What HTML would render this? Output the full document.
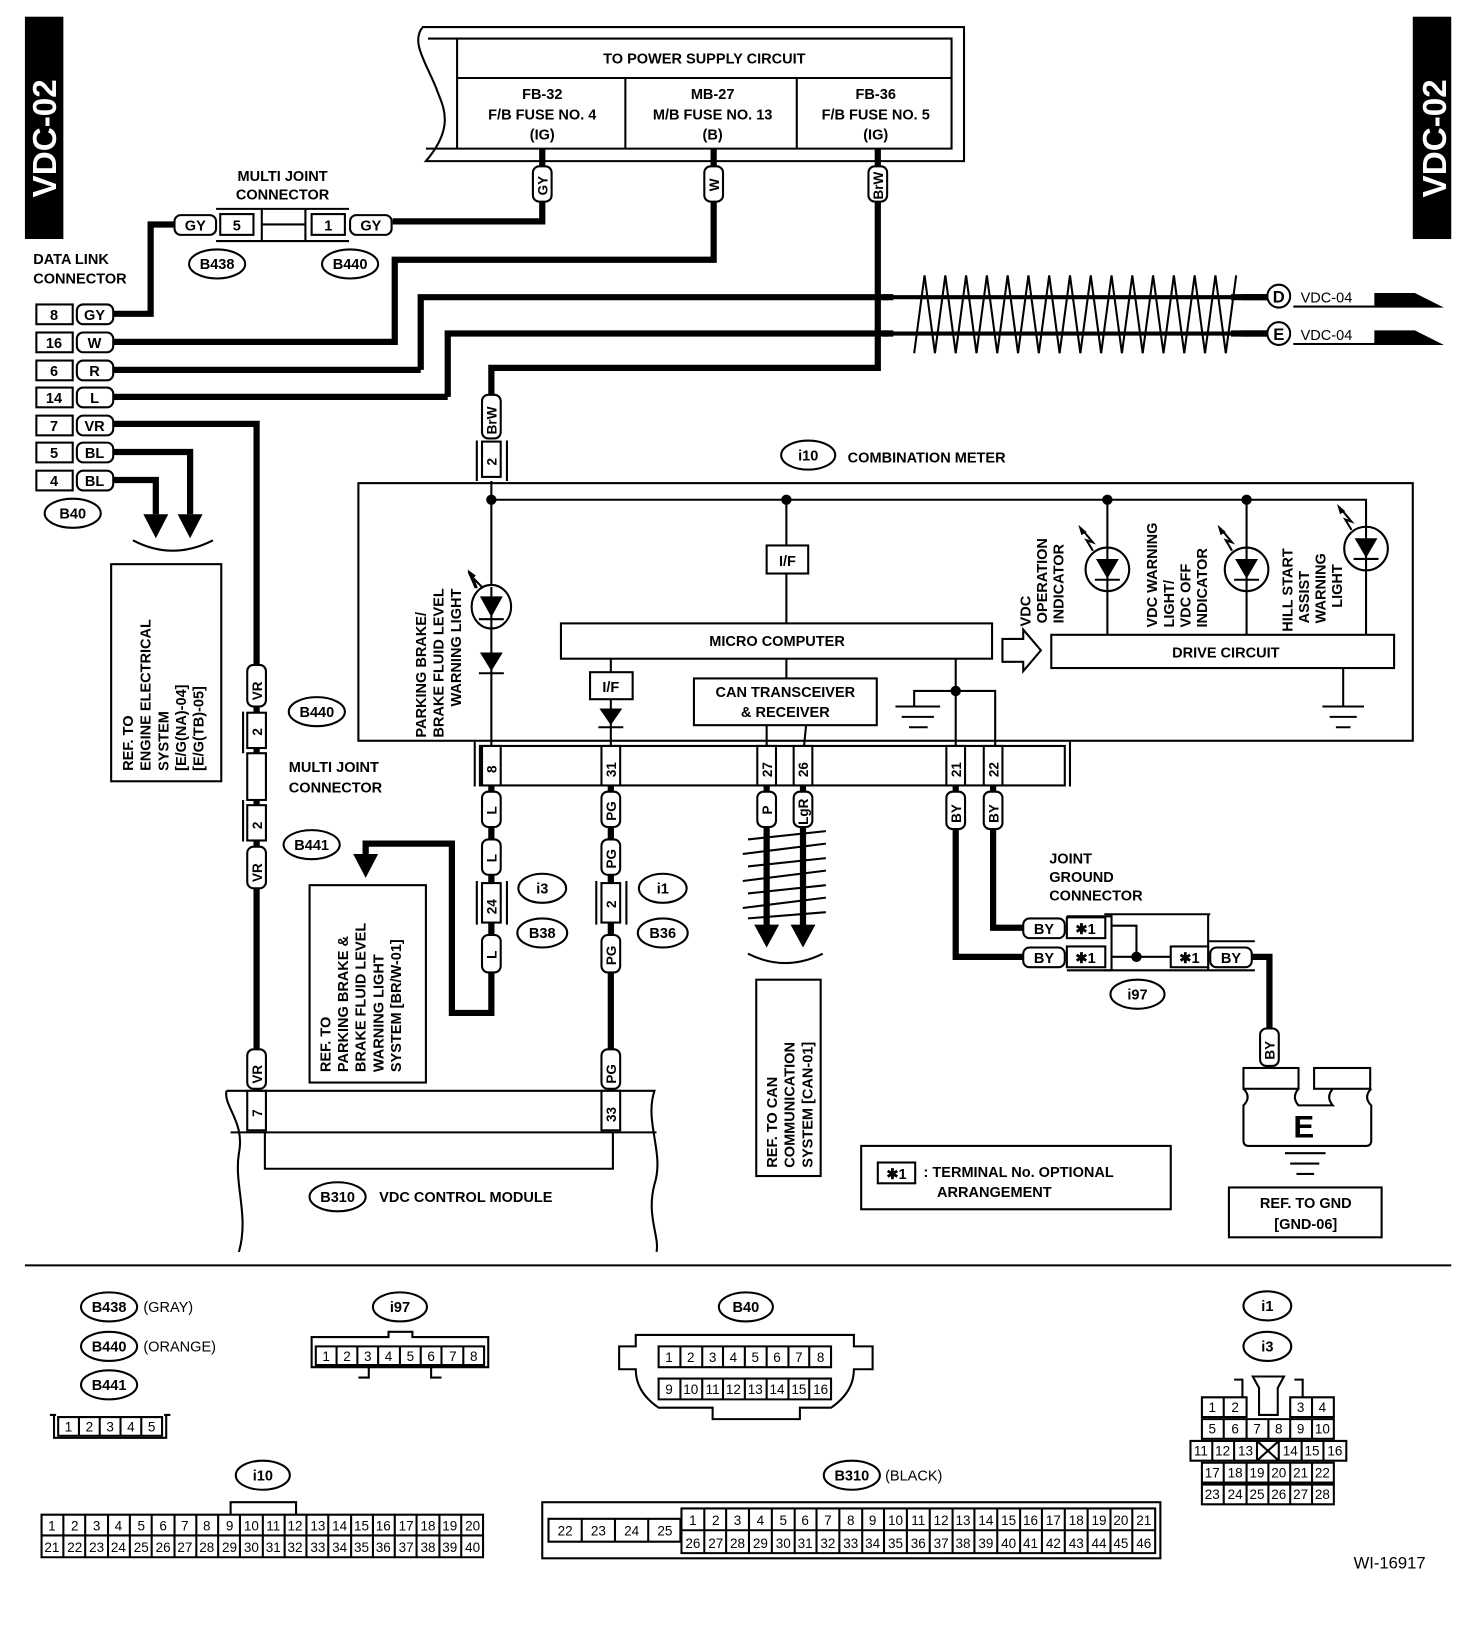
<!DOCTYPE html>
<html><head><meta charset="utf-8"><style>
html,body{margin:0;padding:0;background:#fff}
svg{display:block}
text{font-family:"Liberation Sans",Arial,sans-serif;font-weight:bold;font-size:14px;fill:#000}
.w{stroke:#000;stroke-width:6;fill:none}
.t{stroke:#000;stroke-width:2;fill:none}
.f{stroke:#000;stroke-width:2;fill:#fff}
.s{font-size:13px;font-weight:normal}
.m{text-anchor:middle}
</style></head><body>
<svg width="1472" height="1628" viewBox="0 0 1417 1567" xmlns="http://www.w3.org/2000/svg">
<!-- side tags -->
<rect x="24" y="16" width="37" height="214" fill="#000"/>
<text transform="translate(54,190) rotate(-90)" style="font-size:32px;font-weight:bold;fill:#fff">VDC-02</text>
<rect x="1360" y="16" width="37" height="214" fill="#000"/>
<text transform="translate(1392,190) rotate(-90)" style="font-size:32px;font-weight:bold;fill:#fff">VDC-02</text>

<!-- power supply -->
<path class="t" d="M407,26 H928 V155 H410 C440,120 425,100 420,85 C410,60 395,40 407,26 Z"/>
<path class="t" d="M440,37 H916 V143 H440 Z M440,75 H916 M602,75 V143 M767,75 V143 M412,37 H440 M410,143 H440"/>
<text x="678" y="61" class="m">TO POWER SUPPLY CIRCUIT</text>
<text x="522" y="95" class="m">FB-32</text><text x="522" y="115" class="m">F/B FUSE NO. 4</text><text x="522" y="134" class="m">(IG)</text>
<text x="686" y="95" class="m">MB-27</text><text x="686" y="115" class="m">M/B FUSE NO. 13</text><text x="686" y="134" class="m">(B)</text>
<text x="843" y="95" class="m">FB-36</text><text x="843" y="115" class="m">F/B FUSE NO. 5</text><text x="843" y="134" class="m">(IG)</text>

<!-- wires -->
<path class="w" d="M522,143 V213 H378"/>
<path class="w" d="M687,143 V250 H380 V329 H108"/>
<path class="w" d="M405,356 V286 H1220"/>
<path class="w" d="M431,382 V321 H1220"/>
<path class="w" d="M108,356 H405 M108,382 H431"/>
<path class="w" d="M845,143 V354 H473 V380"/>
<path class="w" d="M108,302 H145 V216 H168"/>
<path class="w" d="M108,408 H247 V1050"/>
<path class="w" d="M108,435 H183 V495 M108,462 H150 V495"/>
<polygon points="138,495 162,495 150,518"/><polygon points="171,495 195,495 183,518"/>
<path class="t" d="M128,520 Q166,540 205,520"/>

<!-- vertical pills on power wires -->
<rect x="513" y="160" width="18" height="34" rx="6" class="f"/><text transform="translate(527,188) rotate(-90)" class="s" style="font-weight:bold">GY</text>
<rect x="678" y="160" width="18" height="34" rx="6" class="f"/><text transform="translate(692,184) rotate(-90)" style="font-size:13px">W</text>
<rect x="836" y="160" width="18" height="34" rx="6" class="f"/><text transform="translate(850,192) rotate(-90)" style="font-size:13px">BrW</text>

<!-- hatch -->
<rect x="855" y="262" width="340" height="82" fill="#fff"/>
<path class="w" d="M850,286 H860 M850,321 H860 M1185,286 H1220 M1185,321 H1220"/>
<path class="t" d="M880,340 L890,265 L900,340 L910,265 L920,340 L930,265 L940,340 L950,265 L960,340 L970,265 L980,340 L990,265 L1000,340 L1010,265 L1020,340 L1030,265 L1040,340 L1050,265 L1060,340 L1070,265 L1080,340 L1090,265 L1100,340 L1110,265 L1120,340 L1130,265 L1140,340 L1150,265 L1160,340 L1170,265 L1180,340 L1190,265"/>
<path d="M855,286 H1190 M855,321 H1190" stroke="#000" stroke-width="4"/>
<circle cx="1231" cy="285" r="11" class="f"/><text x="1231" y="291" class="m" style="font-size:16px">D</text>
<circle cx="1231" cy="321" r="11" class="f"/><text x="1231" y="327" class="m" style="font-size:16px">E</text>
<polygon points="1322,282 1362,282 1390,296 1245,296 1245,294 1322,294" fill="#000"/>
<polygon points="1322,318 1362,318 1390,332 1245,332 1245,330 1322,330" fill="#000"/>
<rect x="1243" y="276" width="80" height="18" fill="#fff"/><text x="1252" y="291" style="font-weight:normal">VDC-04</text>
<rect x="1243" y="312" width="80" height="18" fill="#fff"/><text x="1252" y="327" style="font-weight:normal">VDC-04</text>

<!-- multi joint connector top -->
<text x="272" y="174" class="m">MULTI JOINT</text><text x="272" y="192" class="m">CONNECTOR</text>
<path class="t" d="M208,201 H336 M208,232 H336 M252,201 V232 M294,201 V232 M252,216 H294"/>
<rect x="168" y="207" width="40" height="19" rx="6" class="f"/><text x="188" y="222" class="m">GY</text>
<rect x="212" y="206" width="32" height="20" class="f"/><text x="228" y="222" class="m">5</text>
<rect x="300" y="206" width="32" height="20" class="f"/><text x="316" y="222" class="m">1</text>
<rect x="337" y="207" width="40" height="19" rx="6" class="f"/><text x="357" y="222" class="m">GY</text>
<ellipse cx="209" cy="254" rx="27" ry="14" class="f"/><text x="209" y="259" class="m">B438</text>
<ellipse cx="337" cy="254" rx="27" ry="14" class="f"/><text x="337" y="259" class="m">B440</text>

<!-- data link connector -->
<text x="32" y="254">DATA LINK</text><text x="32" y="273">CONNECTOR</text>
<g>
<rect x="35" y="293" width="35" height="19" class="f"/><text x="52" y="308" class="m">8</text>
<rect x="35" y="320" width="35" height="19" class="f"/><text x="52" y="335" class="m">16</text>
<rect x="35" y="347" width="35" height="19" class="f"/><text x="52" y="362" class="m">6</text>
<rect x="35" y="373" width="35" height="19" class="f"/><text x="52" y="388" class="m">14</text>
<rect x="35" y="400" width="35" height="19" class="f"/><text x="52" y="415" class="m">7</text>
<rect x="35" y="426" width="35" height="19" class="f"/><text x="52" y="441" class="m">5</text>
<rect x="35" y="453" width="35" height="19" class="f"/><text x="52" y="468" class="m">4</text>
<rect x="74" y="293" width="35" height="19" rx="6" class="f"/><text x="91" y="308" class="m">GY</text>
<rect x="74" y="320" width="35" height="19" rx="6" class="f"/><text x="91" y="335" class="m">W</text>
<rect x="74" y="347" width="35" height="19" rx="6" class="f"/><text x="91" y="362" class="m">R</text>
<rect x="74" y="373" width="35" height="19" rx="6" class="f"/><text x="91" y="388" class="m">L</text>
<rect x="74" y="400" width="35" height="19" rx="6" class="f"/><text x="91" y="415" class="m">VR</text>
<rect x="74" y="426" width="35" height="19" rx="6" class="f"/><text x="91" y="441" class="m">BL</text>
<rect x="74" y="453" width="35" height="19" rx="6" class="f"/><text x="91" y="468" class="m">BL</text>
</g>
<ellipse cx="70" cy="494" rx="27" ry="14" class="f"/><text x="70" y="499" class="m">B40</text>

<!-- ref engine box -->
<rect x="107" y="543" width="106" height="209" class="t"/>
<text transform="translate(128,742) rotate(-90)">REF. TO</text>
<text transform="translate(145,742) rotate(-90)">ENGINE ELECTRICAL</text>
<text transform="translate(162,742) rotate(-90)">SYSTEM</text>
<text transform="translate(179,742) rotate(-90)">[E/G(NA)-04]</text>
<text transform="translate(196,742) rotate(-90)">[E/G(TB)-05]</text>

<!-- VR multi joint -->
<rect x="238" y="640" width="18" height="40" rx="6" class="f"/><text transform="translate(252,674) rotate(-90)" style="font-size:13px">VR</text>
<path class="t" d="M234,685 V725 M234,770 V810"/>
<rect x="238" y="686" width="18" height="34" class="f"/><text transform="translate(252,708) rotate(-90)" style="font-size:13px">2</text>
<rect x="238" y="725" width="18" height="45" class="f"/>
<rect x="238" y="775" width="18" height="34" class="f"/><text transform="translate(252,798) rotate(-90)" style="font-size:13px">2</text>
<rect x="238" y="815" width="18" height="40" rx="6" class="f"/><text transform="translate(252,849) rotate(-90)" style="font-size:13px">VR</text>
<rect x="238" y="1010" width="18" height="38" rx="6" class="f"/><text transform="translate(252,1043) rotate(-90)" style="font-size:13px">VR</text>
<ellipse cx="305" cy="685" rx="27" ry="14" class="f"/><text x="305" y="690" class="m">B440</text>
<ellipse cx="300" cy="813" rx="27" ry="14" class="f"/><text x="300" y="818" class="m">B441</text>
<text x="278" y="743">MULTI JOINT</text><text x="278" y="763">CONNECTOR</text>

<!-- BrW into meter -->
<rect x="464" y="380" width="18" height="42" rx="6" class="f"/><text transform="translate(478,418) rotate(-90)" style="font-size:13px">BrW</text>
<path class="t" d="M459,424 V463 M488,424 V463"/>
<rect x="464" y="425" width="18" height="34" class="f"/><text transform="translate(478,448) rotate(-90)" style="font-size:13px">2</text>

<!-- combination meter -->
<ellipse cx="778" cy="438" rx="26" ry="14" class="f"/><text x="778" y="443" class="m">i10</text>
<text x="816" y="445">COMBINATION METER</text>
<rect x="345" y="465" width="1015" height="248" class="t" stroke-width="2.5"/>
<path class="t" d="M473,463 V718 M473,481 H1315 V611 M757,481 V600 M1066,481 V611 M1200,481 V611"/>
<circle cx="473" cy="481" r="5"/><circle cx="757" cy="481" r="5"/><circle cx="1066" cy="481" r="5"/><circle cx="1200" cy="481" r="5"/>
<!-- parking LED -->
<ellipse cx="473" cy="584" rx="19" ry="21" class="f"/>
<polygon points="462,574 484,574 473,594"/><path class="t" d="M461,596 H485 M473,565 V605"/>
<path class="t" d="M465,566 L455,556 M455,556 L459,566 M458,566 L451,550"/><polygon points="450,548 458,554 454,558"/>
<polygon points="462,628 484,628 473,646"/><path class="t" d="M461,648 H485"/>
<text transform="translate(410,710) rotate(-90)">PARKING BRAKE/</text>
<text transform="translate(427,710) rotate(-90)">BRAKE FLUID LEVEL</text>
<text transform="translate(444,680) rotate(-90)">WARNING LIGHT</text>
<!-- I/F -->
<rect x="738" y="525" width="40" height="27" class="f"/><text x="758" y="545" class="m">I/F</text>
<rect x="540" y="600" width="415" height="34" class="f"/><text x="748" y="622" class="m">MICRO COMPUTER</text>
<path class="t" d="M588,634 V718"/>
<rect x="568" y="647" width="41" height="26" class="f"/><text x="588" y="666" class="m">I/F</text>
<polygon points="577,682 599,682 588,698"/><path class="t" d="M576,700 H600"/>
<path class="t" d="M757,634 V653 M738,698 V718 M776,698 L774,718"/>
<rect x="668" y="653" width="176" height="45" class="f"/><text x="756" y="671" class="m">CAN TRANSCEIVER</text><text x="756" y="690" class="m">&amp; RECEIVER</text>
<path class="t" d="M920,634 V718 M920,665 H958 V718 M920,665 H880 V680 M862,680 H905 M868,690 H899 M875,700 H893"/>
<circle cx="920" cy="665" r="5"/>
<polygon points="965,615 985,615 985,606 1002,626 985,646 985,637 965,637" class="f"/>
<text transform="translate(992,603) rotate(-90)">VDC</text>
<text transform="translate(1008,600) rotate(-90)">OPERATION</text>
<text transform="translate(1024,600) rotate(-90)">INDICATOR</text>
<rect x="1012" y="611" width="330" height="32" class="f"/><text x="1180" y="633" class="m">DRIVE CIRCUIT</text>
<path class="t" d="M1293,643 V680 M1273,680 H1313 M1280,690 H1306 M1286,700 H1300"/>
<!-- LEDs -->
<g>
<circle cx="1066" cy="548" r="21" class="f"/><path class="t" d="M1066,527 V569 M1054,558 H1078"/><polygon points="1055,538 1077,538 1066,557"/>
<path class="t" d="M1052,530 L1046,520 L1052,522 L1042,510"/><polygon points="1038,505 1046,512 1041,515"/>
<circle cx="1200" cy="548" r="21" class="f"/><path class="t" d="M1200,527 V569 M1188,558 H1212"/><polygon points="1189,538 1211,538 1200,557"/>
<path class="t" d="M1186,530 L1180,520 L1186,522 L1176,510"/><polygon points="1172,505 1180,512 1175,515"/>
<circle cx="1315" cy="528" r="21" class="f"/><path class="t" d="M1315,507 V549 M1303,538 H1327"/><polygon points="1304,518 1326,518 1315,537"/>
<path class="t" d="M1301,510 L1295,500 L1301,502 L1291,490"/><polygon points="1287,485 1295,492 1290,495"/>
</g>
<text transform="translate(1114,604) rotate(-90)">VDC WARNING</text>
<text transform="translate(1130,604) rotate(-90)">LIGHT/</text>
<text transform="translate(1146,604) rotate(-90)">VDC OFF</text>
<text transform="translate(1162,604) rotate(-90)">INDICATOR</text>
<text transform="translate(1244,608) rotate(-90)">HILL START</text>
<text transform="translate(1260,600) rotate(-90)">ASSIST</text>
<text transform="translate(1276,600) rotate(-90)">WARNING</text>
<text transform="translate(1292,585) rotate(-90)">LIGHT</text>

<!-- meter connector strip -->
<path class="t" d="M457,714 V757 M1030,714 V757"/>
<rect x="462" y="718" width="563" height="38" class="f"/>
<g>
<rect x="464" y="718" width="18" height="38" class="f"/><text transform="translate(478,744) rotate(-90)" style="font-size:13px">8</text>
<rect x="579" y="718" width="18" height="38" class="f"/><text transform="translate(593,748) rotate(-90)" style="font-size:13px">31</text>
<rect x="729" y="718" width="18" height="38" class="f"/><text transform="translate(743,748) rotate(-90)" style="font-size:13px">27</text>
<rect x="764" y="718" width="18" height="38" class="f"/><text transform="translate(778,748) rotate(-90)" style="font-size:13px">26</text>
<rect x="911" y="718" width="18" height="38" class="f"/><text transform="translate(925,748) rotate(-90)" style="font-size:13px">21</text>
<rect x="947" y="718" width="18" height="38" class="f"/><text transform="translate(961,748) rotate(-90)" style="font-size:13px">22</text>
</g>

<!-- L wire -->
<path class="w" d="M473,756 V975 H435 V812 H352 V825"/>
<polygon points="340,822 364,822 352,845"/>
<rect x="464" y="762" width="18" height="34" rx="6" class="f"/><text transform="translate(478,784) rotate(-90)" style="font-size:13px">L</text>
<rect x="464" y="808" width="18" height="34" rx="6" class="f"/><text transform="translate(478,830) rotate(-90)" style="font-size:13px">L</text>
<path class="t" d="M459,848 V890 M488,848 V890"/>
<rect x="464" y="850" width="18" height="38" class="f"/><text transform="translate(478,880) rotate(-90)" style="font-size:13px">24</text>
<rect x="464" y="900" width="18" height="36" rx="6" class="f"/><text transform="translate(478,923) rotate(-90)" style="font-size:13px">L</text>
<ellipse cx="522" cy="855" rx="23" ry="14" class="f"/><text x="522" y="860" class="m">i3</text>
<ellipse cx="522" cy="898" rx="24" ry="14" class="f"/><text x="522" y="903" class="m">B38</text>
<rect x="298" y="852" width="112" height="190" class="f"/>
<text transform="translate(318,1032) rotate(-90)">REF. TO</text>
<text transform="translate(335,1032) rotate(-90)">PARKING BRAKE &amp;</text>
<text transform="translate(352,1032) rotate(-90)">BRAKE FLUID LEVEL</text>
<text transform="translate(369,1032) rotate(-90)">WARNING LIGHT</text>
<text transform="translate(386,1032) rotate(-90)">SYSTEM [BR/W-01]</text>

<!-- PG wire -->
<path class="w" d="M588,756 V1050"/>
<rect x="579" y="762" width="18" height="34" rx="6" class="f"/><text transform="translate(593,790) rotate(-90)" style="font-size:13px">PG</text>
<rect x="579" y="808" width="18" height="34" rx="6" class="f"/><text transform="translate(593,836) rotate(-90)" style="font-size:13px">PG</text>
<path class="t" d="M574,848 V890 M603,848 V890"/>
<rect x="579" y="850" width="18" height="38" class="f"/><text transform="translate(593,874) rotate(-90)" style="font-size:13px">2</text>
<rect x="579" y="900" width="18" height="36" rx="6" class="f"/><text transform="translate(593,929) rotate(-90)" style="font-size:13px">PG</text>
<rect x="579" y="1010" width="18" height="38" rx="6" class="f"/><text transform="translate(593,1043) rotate(-90)" style="font-size:13px">PG</text>
<ellipse cx="638" cy="855" rx="23" ry="14" class="f"/><text x="638" y="860" class="m">i1</text>
<ellipse cx="638" cy="898" rx="24" ry="14" class="f"/><text x="638" y="903" class="m">B36</text>

<!-- CAN wires -->
<path class="w" d="M738,756 V893 M773,756 V893"/>
<polygon points="726,890 750,890 738,912"/><polygon points="761,890 785,890 773,912"/>
<rect x="729" y="762" width="18" height="34" rx="6" class="f"/><text transform="translate(743,784) rotate(-90)" style="font-size:13px">P</text>
<rect x="764" y="762" width="18" height="34" rx="6" class="f"/><text transform="translate(778,794) rotate(-90)" style="font-size:13px">LgR</text>
<path class="t" d="M720,808 L795,800 M715,822 L795,812 M720,834 L795,826 M715,848 L795,838 M720,860 L795,852 M715,874 L795,864 M720,884 L795,878"/>
<path class="t" d="M720,918 Q756,936 792,918"/>
<rect x="728" y="943" width="62" height="189" class="f"/>
<text transform="translate(748,1124) rotate(-90)">REF. TO CAN</text>
<text transform="translate(765,1124) rotate(-90)">COMMUNICATION</text>
<text transform="translate(782,1124) rotate(-90)">SYSTEM [CAN-01]</text>

<!-- BY wires -->
<path class="w" d="M920,756 V921 H985 M956,756 V893 H985"/>
<path class="w" d="M1205,921 H1222 V990"/>
<rect x="911" y="762" width="18" height="36" rx="6" class="f"/><text transform="translate(925,792) rotate(-90)" style="font-size:13px">BY</text>
<rect x="947" y="762" width="18" height="36" rx="6" class="f"/><text transform="translate(961,792) rotate(-90)" style="font-size:13px">BY</text>
<text x="1010" y="831">JOINT</text><text x="1010" y="849">GROUND</text><text x="1010" y="867">CONNECTOR</text>
<path class="t" d="M1063,880 H1165 M1063,934 H1165 M1070,880 V934 M1163,880 V934 M1070,891 H1094 V921 M1070,921 H1127 M1163,906 H1208 M1163,934 H1208"/>
<rect x="985" y="884" width="40" height="19" rx="6" class="f"/><text x="1005" y="899" class="m">BY</text>
<rect x="985" y="912" width="40" height="19" rx="6" class="f"/><text x="1005" y="927" class="m">BY</text>
<rect x="1027" y="883" width="37" height="20" class="f"/><text x="1045" y="899" class="m">✱1</text>
<rect x="1027" y="911" width="37" height="20" class="f"/><text x="1045" y="927" class="m">✱1</text>
<path class="t" d="M1027,882 H1070 M1027,934 H1070"/>
<circle cx="1094" cy="921" r="5"/>
<rect x="1127" y="911" width="36" height="20" class="f"/><text x="1145" y="927" class="m">✱1</text>
<rect x="1165" y="912" width="40" height="19" rx="6" class="f"/><text x="1185" y="927" class="m">BY</text>
<ellipse cx="1095" cy="957" rx="26" ry="14" class="f"/><text x="1095" y="962" class="m">i97</text>
<rect x="1213" y="990" width="18" height="36" rx="6" class="f"/><text transform="translate(1227,1020) rotate(-90)" style="font-size:13px">BY</text>
<!-- E ground -->
<rect x="1197" y="1028" width="53" height="20" class="f"/>
<rect x="1265" y="1028" width="54" height="20" class="f"/>
<path class="t" d="M1197,1048 Q1205,1056 1197,1064 V1098 Q1197,1103 1202,1103 H1315 Q1320,1103 1320,1098 V1064 Q1312,1056 1320,1048 M1250,1048 Q1243,1056 1250,1064 H1283 Q1276,1056 1283,1048"/>
<text x="1255" y="1095" class="m" style="font-size:30px">E</text>
<path class="t" d="M1237,1110 H1276 M1242,1120 H1270 M1248,1130 H1265" stroke-width="2.5"/>
<rect x="1183" y="1143" width="147" height="48" class="f"/>
<text x="1257" y="1163" class="m">REF. TO GND</text><text x="1257" y="1183" class="m">[GND-06]</text>
<!-- legend -->
<rect x="829" y="1103" width="298" height="61" class="f"/>
<rect x="845" y="1119" width="36" height="20" class="f"/><text x="863" y="1135" class="m">✱1</text>
<text x="889" y="1133">: TERMINAL No. OPTIONAL</text>
<text x="902" y="1152">ARRANGEMENT</text>

<!-- VDC control module -->
<path class="t" d="M218,1050 H630 C620,1080 640,1110 630,1140 C622,1170 635,1190 632,1205 M230,1205 C240,1170 225,1140 230,1110 C236,1080 215,1065 218,1050"/>
<path class="t" d="M222,1090 H632 M255,1090 V1125 H590 V1090"/>
<rect x="238" y="1050" width="18" height="38" class="f"/><text transform="translate(252,1075) rotate(-90)" style="font-size:13px">7</text>
<rect x="579" y="1050" width="18" height="38" class="f"/><text transform="translate(593,1080) rotate(-90)" style="font-size:13px">33</text>
<ellipse cx="325" cy="1152" rx="27" ry="14" class="f"/><text x="325" y="1157" class="m">B310</text>
<text x="365" y="1157">VDC CONTROL MODULE</text>

<path d="M24,1218 H1397" stroke="#000" stroke-width="2"/>

<!-- bottom: B438 etc -->
<ellipse cx="105" cy="1258" rx="27" ry="14" class="f"/><text x="105" y="1263" class="m">B438</text><text x="138" y="1263" style="font-weight:normal">(GRAY)</text>
<ellipse cx="105" cy="1296" rx="27" ry="14" class="f"/><text x="105" y="1301" class="m">B440</text><text x="138" y="1301" style="font-weight:normal">(ORANGE)</text>
<ellipse cx="105" cy="1333" rx="27" ry="14" class="f"/><text x="105" y="1338" class="m">B441</text>
<g class="s">
<path class="t" d="M52,1362 V1384 H160 V1362 M48,1362 H54 M158,1362 H164"/>
<path class="t" d="M56,1364 H156 V1382 H56 Z M76,1364 V1382 M96,1364 V1382 M116,1364 V1382 M136,1364 V1382"/>
<text x="66" y="1378" class="m s">1</text><text x="86" y="1378" class="m s">2</text><text x="106" y="1378" class="m s">3</text><text x="126" y="1378" class="m s">4</text><text x="146" y="1378" class="m s">5</text>
</g>
<!-- i97 connector -->
<ellipse cx="385" cy="1258" rx="26" ry="14" class="f"/><text x="385" y="1263" class="m">i97</text>
<path class="t" d="M300,1287 H374 V1282 H397 V1287 H470 V1316 H300 Z M304,1296 H466 V1314 H304 Z"/>
<path class="t" d="M324,1296 V1314 M344,1296 V1314 M364,1296 V1314 M385,1296 V1314 M405,1296 V1314 M425,1296 V1314 M446,1296 V1314 M355,1316 V1326 H345 M415,1316 V1326 H425"/>
<text x="314" y="1310" class="m s">1</text><text x="334" y="1310" class="m s">2</text><text x="354" y="1310" class="m s">3</text><text x="374" y="1310" class="m s">4</text><text x="395" y="1310" class="m s">5</text><text x="415" y="1310" class="m s">6</text><text x="436" y="1310" class="m s">7</text><text x="456" y="1310" class="m s">8</text>
<!-- B40 -->
<ellipse cx="718" cy="1258" rx="26" ry="14" class="f"/><text x="718" y="1263" class="m">B40</text>
<path class="t" d="M612,1285 H822 V1296 H840 V1318 H822 Q822,1340 800,1355 H770 V1366 H686 V1355 H634 Q612,1340 612,1318 H596 V1296 H612 Z"/>
<path class="t" d="M634,1296 H800 V1316 H634 Z M634,1327 H800 V1347 H634 Z"/>
<path class="t" d="M655,1296 V1316 M676,1296 V1316 M696,1296 V1316 M717,1296 V1316 M738,1296 V1316 M759,1296 V1316 M779,1296 V1316 M655,1327 V1347 M676,1327 V1347 M696,1327 V1347 M717,1327 V1347 M738,1327 V1347 M759,1327 V1347 M779,1327 V1347"/>
<text x="644" y="1311" class="m s">1</text><text x="665" y="1311" class="m s">2</text><text x="686" y="1311" class="m s">3</text><text x="706" y="1311" class="m s">4</text><text x="727" y="1311" class="m s">5</text><text x="748" y="1311" class="m s">6</text><text x="769" y="1311" class="m s">7</text><text x="790" y="1311" class="m s">8</text>
<text x="644" y="1342" class="m s">9</text><text x="665" y="1342" class="m s">10</text><text x="686" y="1342" class="m s">11</text><text x="706" y="1342" class="m s">12</text><text x="727" y="1342" class="m s">13</text><text x="748" y="1342" class="m s">14</text><text x="769" y="1342" class="m s">15</text><text x="790" y="1342" class="m s">16</text>
<!-- i1/i3 connector -->
<ellipse cx="1220" cy="1257" rx="23" ry="14" class="f"/><text x="1220" y="1262" class="m">i1</text>
<ellipse cx="1220" cy="1296" rx="23" ry="14" class="f"/><text x="1220" y="1301" class="m">i3</text>
<path class="t" d="M1188,1328 H1196 V1345 M1246,1328 H1254 V1345 M1206,1325 H1236 L1230,1336 V1362 H1212 V1336 Z"/>
<path class="t" d="M1157,1345 H1200 V1364 H1157 Z M1178,1345 V1364 M1242,1345 H1284 V1364 H1242 Z M1263,1345 V1364"/>
<text x="1167" y="1359" class="m s">1</text><text x="1189" y="1359" class="m s">2</text><text x="1252" y="1359" class="m s">3</text><text x="1273" y="1359" class="m s">4</text>
<path class="t" d="M1157,1366 H1284 V1385 H1157 Z M1178,1366 V1385 M1200,1366 V1385 M1221,1366 V1385 M1242,1366 V1385 M1263,1366 V1385"/>
<text x="1167" y="1380" class="m s">5</text><text x="1189" y="1380" class="m s">6</text><text x="1210" y="1380" class="m s">7</text><text x="1231" y="1380" class="m s">8</text><text x="1252" y="1380" class="m s">9</text><text x="1273" y="1380" class="m s">10</text>
<path class="t" d="M1146,1387 H1296 V1406 H1146 Z M1167,1387 V1406 M1188,1387 V1406 M1210,1387 V1406 M1231,1387 V1406 M1253,1387 V1406 M1274,1387 V1406 M1210,1387 L1231,1406 M1231,1387 L1210,1406"/>
<text x="1156" y="1401" class="m s">11</text><text x="1177" y="1401" class="m s">12</text><text x="1199" y="1401" class="m s">13</text><text x="1242" y="1401" class="m s">14</text><text x="1263" y="1401" class="m s">15</text><text x="1285" y="1401" class="m s">16</text>
<path class="t" d="M1157,1408 H1284 V1427 H1157 Z M1178,1408 V1427 M1200,1408 V1427 M1221,1408 V1427 M1242,1408 V1427 M1263,1408 V1427"/>
<text x="1167" y="1422" class="m s">17</text><text x="1189" y="1422" class="m s">18</text><text x="1210" y="1422" class="m s">19</text><text x="1231" y="1422" class="m s">20</text><text x="1252" y="1422" class="m s">21</text><text x="1273" y="1422" class="m s">22</text>
<path class="t" d="M1157,1429 H1284 V1448 H1157 Z M1178,1429 V1448 M1200,1429 V1448 M1221,1429 V1448 M1242,1429 V1448 M1263,1429 V1448"/>
<text x="1167" y="1443" class="m s">23</text><text x="1189" y="1443" class="m s">24</text><text x="1210" y="1443" class="m s">25</text><text x="1231" y="1443" class="m s">26</text><text x="1252" y="1443" class="m s">27</text><text x="1273" y="1443" class="m s">28</text>
<!-- i10 connector -->
<ellipse cx="253" cy="1420" rx="26" ry="14" class="f"/><text x="253" y="1425" class="m">i10</text>
<path class="t" d="M222,1458 V1446 H285 V1458 M40,1458 H465 V1499 H40 Z M40,1478 H465"/>
<path class="t" d="M61,1458 V1499 M82,1458 V1499 M104,1458 V1499 M125,1458 V1499 M146,1458 V1499 M168,1458 V1499 M189,1458 V1499 M210,1458 V1499 M231,1458 V1499 M253,1458 V1499 M274,1458 V1499 M295,1458 V1499 M316,1458 V1499 M338,1458 V1499 M359,1458 V1499 M380,1458 V1499 M401,1458 V1499 M423,1458 V1499 M444,1458 V1499"/>
<g>
<text x="50" y="1473" class="m s">1</text><text x="72" y="1473" class="m s">2</text><text x="93" y="1473" class="m s">3</text><text x="114" y="1473" class="m s">4</text><text x="136" y="1473" class="m s">5</text><text x="157" y="1473" class="m s">6</text><text x="178" y="1473" class="m s">7</text><text x="199" y="1473" class="m s">8</text><text x="221" y="1473" class="m s">9</text><text x="242" y="1473" class="m s">10</text><text x="263" y="1473" class="m s">11</text><text x="284" y="1473" class="m s">12</text><text x="306" y="1473" class="m s">13</text><text x="327" y="1473" class="m s">14</text><text x="348" y="1473" class="m s">15</text><text x="369" y="1473" class="m s">16</text><text x="391" y="1473" class="m s">17</text><text x="412" y="1473" class="m s">18</text><text x="433" y="1473" class="m s">19</text><text x="455" y="1473" class="m s">20</text>
<text x="50" y="1494" class="m s">21</text><text x="72" y="1494" class="m s">22</text><text x="93" y="1494" class="m s">23</text><text x="114" y="1494" class="m s">24</text><text x="136" y="1494" class="m s">25</text><text x="157" y="1494" class="m s">26</text><text x="178" y="1494" class="m s">27</text><text x="199" y="1494" class="m s">28</text><text x="221" y="1494" class="m s">29</text><text x="242" y="1494" class="m s">30</text><text x="263" y="1494" class="m s">31</text><text x="284" y="1494" class="m s">32</text><text x="306" y="1494" class="m s">33</text><text x="327" y="1494" class="m s">34</text><text x="348" y="1494" class="m s">35</text><text x="369" y="1494" class="m s">36</text><text x="391" y="1494" class="m s">37</text><text x="412" y="1494" class="m s">38</text><text x="433" y="1494" class="m s">39</text><text x="455" y="1494" class="m s">40</text>
</g>
<!-- B310 connector -->
<ellipse cx="820" cy="1420" rx="27" ry="14" class="f"/><text x="820" y="1425" class="m">B310</text><text x="852" y="1425" style="font-weight:normal">(BLACK)</text>
<rect x="522" y="1446" width="595" height="54" class="t"/>
<path class="t" d="M528,1462 H655 V1484 H528 Z M560,1462 V1484 M592,1462 V1484 M624,1462 V1484"/>
<text x="544" y="1478" class="m s">22</text><text x="576" y="1478" class="m s">23</text><text x="608" y="1478" class="m s">24</text><text x="640" y="1478" class="m s">25</text>
<path class="t" d="M656,1452 H1112 V1495 H656 Z M656,1473 H1112"/>
<path class="t" d="M678,1452 V1495 M699,1452 V1495 M721,1452 V1495 M743,1452 V1495 M765,1452 V1495 M786,1452 V1495 M808,1452 V1495 M830,1452 V1495 M851,1452 V1495 M873,1452 V1495 M895,1452 V1495 M917,1452 V1495 M938,1452 V1495 M960,1452 V1495 M982,1452 V1495 M1003,1452 V1495 M1025,1452 V1495 M1047,1452 V1495 M1069,1452 V1495 M1090,1452 V1495"/>
<text x="667" y="1468" class="m s">1</text><text x="689" y="1468" class="m s">2</text><text x="710" y="1468" class="m s">3</text><text x="732" y="1468" class="m s">4</text><text x="754" y="1468" class="m s">5</text><text x="775" y="1468" class="m s">6</text><text x="797" y="1468" class="m s">7</text><text x="819" y="1468" class="m s">8</text><text x="840" y="1468" class="m s">9</text><text x="862" y="1468" class="m s">10</text><text x="884" y="1468" class="m s">11</text><text x="906" y="1468" class="m s">12</text><text x="927" y="1468" class="m s">13</text><text x="949" y="1468" class="m s">14</text><text x="971" y="1468" class="m s">15</text><text x="992" y="1468" class="m s">16</text><text x="1014" y="1468" class="m s">17</text><text x="1036" y="1468" class="m s">18</text><text x="1058" y="1468" class="m s">19</text><text x="1079" y="1468" class="m s">20</text><text x="1101" y="1468" class="m s">21</text>
<text x="667" y="1490" class="m s">26</text><text x="689" y="1490" class="m s">27</text><text x="710" y="1490" class="m s">28</text><text x="732" y="1490" class="m s">29</text><text x="754" y="1490" class="m s">30</text><text x="775" y="1490" class="m s">31</text><text x="797" y="1490" class="m s">32</text><text x="819" y="1490" class="m s">33</text><text x="840" y="1490" class="m s">34</text><text x="862" y="1490" class="m s">35</text><text x="884" y="1490" class="m s">36</text><text x="906" y="1490" class="m s">37</text><text x="927" y="1490" class="m s">38</text><text x="949" y="1490" class="m s">39</text><text x="971" y="1490" class="m s">40</text><text x="992" y="1490" class="m s">41</text><text x="1014" y="1490" class="m s">42</text><text x="1036" y="1490" class="m s">43</text><text x="1058" y="1490" class="m s">44</text><text x="1079" y="1490" class="m s">45</text><text x="1101" y="1490" class="m s">46</text>

<text x="1303" y="1510" style="font-weight:normal;font-size:16px">WI-16917</text>
</svg>
</body></html>
